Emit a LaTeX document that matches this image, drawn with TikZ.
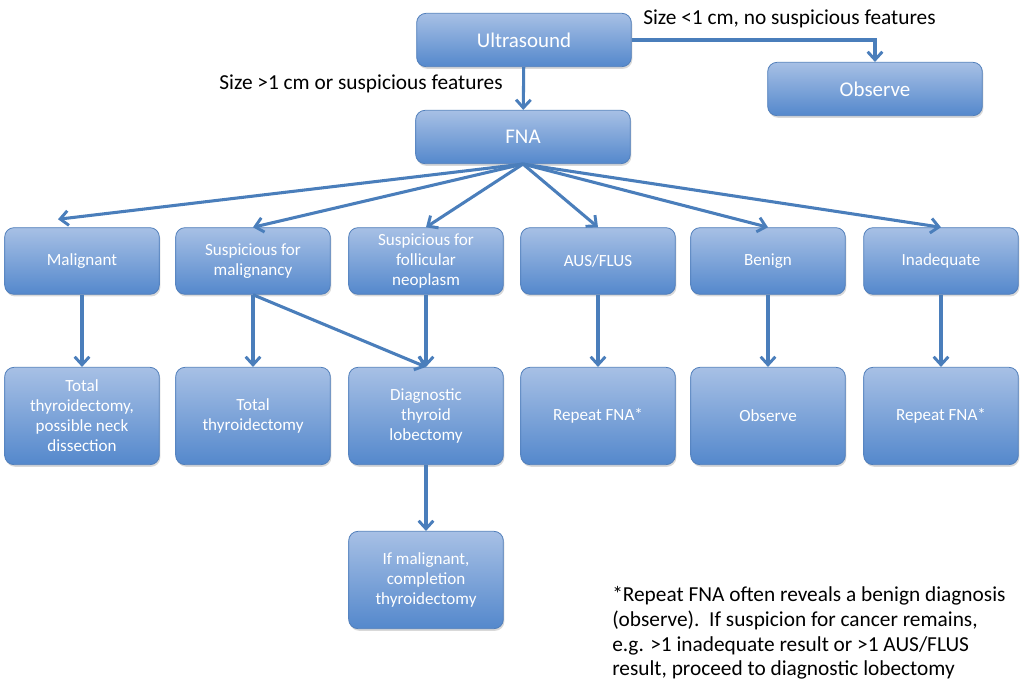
\documentclass[tikz,border=0pt]{standalone}
\usepackage{fontspec}
\setmainfont{Carlito}
\usepackage{tikz}
\usetikzlibrary{arrows.meta,positioning,shadows,calc}
\definecolor{boxtop}{RGB}{167,192,229}
\definecolor{boxbot}{RGB}{84,136,204}
\definecolor{boxline}{RGB}{80,126,186}
\definecolor{flow}{RGB}{74,126,187}

\begin{document}
\begin{tikzpicture}[x=0.75pt,y=-0.75pt,
  block/.style={rectangle,draw=boxline,line width=0.6pt,top color=boxtop,bottom color=boxbot,
                rounded corners=7pt,align=center,text=white,inner sep=2pt,
                drop shadow={opacity=0.3,shadow xshift=0.8pt,shadow yshift=-1.6pt},
                font=\fontsize{12.8}{15}\selectfont},
  head/.style={block,minimum width=161pt,minimum height=40pt,font=\fontsize{15.7}{18}\selectfont},
  cat/.style={block,minimum width=116pt,minimum height=50pt},
  act/.style={block,minimum width=116pt,minimum height=73pt},
  lbl/.style={inner sep=0pt,font=\fontsize{16}{18.6}\selectfont},
  flowline/.style={draw=flow,line width=2.3pt,-{Straight Barb[length=6pt,width=11pt,line width=2.2pt]}}]
\useasboundingbox (0,0) rectangle (1025,682);
% top
\node[head] (us) at (524,40) {Ultrasound};
\node[head] (obs) at (875,89) {Observe};
\node[head] (fna) at (523,137) {FNA};
% FNA results
\node[cat] (mal)  at (82,261)  {Malignant};
\node[cat] (smal) at (253,261) {Suspicious for\\malignancy};
\node[cat] (sfol) at (426,261) {Suspicious for\\follicular\\neoplasm};
\node[cat] (aus)  at (598,261) {AUS/FLUS};
\node[cat] (ben)  at (768,261) {Benign};
\node[cat] (inad) at (941,261) {Inadequate};
% management
\node[act] (tte)  at (82,416)  {Total\\thyroidectomy,\\possible neck\\dissection};
\node[act] (tt)   at (253,416) {Total\\thyroidectomy};
\node[act] (lob)  at (426,416) {Diagnostic\\thyroid\\lobectomy};
\node[act] (rep1) at (598,416) {Repeat FNA*};
\node[act] (obs2) at (768,416) {Observe};
\node[act] (rep2) at (941,416) {Repeat FNA*};
\node[act] (comp) at (426,580) {If malignant,\\completion\\thyroidectomy};
% labels
\node[lbl,anchor=west] (small) at (643,19) {Size <1 cm, no suspicious features};
\node[lbl,anchor=east] (large) at (503,84) {Size >1 cm or suspicious features};
\node[lbl,anchor=north west,align=left] (note) at (612,586)
  {*Repeat FNA often reveals a benign diagnosis\\
   (observe).\ \ If suspicion for cancer remains,\\
   e.g. >1 inadequate result or >1 AUS/FLUS\\
   result, proceed to diagnostic lobectomy};
% arrows
\draw[flowline] (us.east) -| (obs.north);
\draw[flowline] (us) -- (fna);
\draw[flowline] (fna.south) -- ([xshift=-18pt,yshift=6pt]mal.north);
\foreach \n in {smal,sfol,aus,ben,inad}
  \draw[flowline] (fna.south) -- (\n.north);
\draw[flowline] (mal) -- (tte);
\draw[flowline] (smal) -- (tt);
\draw[flowline] (smal.south) -- (lob.north);
\draw[flowline] (sfol) -- (lob);
\draw[flowline] (aus) -- (rep1);
\draw[flowline] (ben) -- (obs2);
\draw[flowline] (inad) -- (rep2);
\draw[flowline] (lob) -- (comp);
\end{tikzpicture}
\end{document}
